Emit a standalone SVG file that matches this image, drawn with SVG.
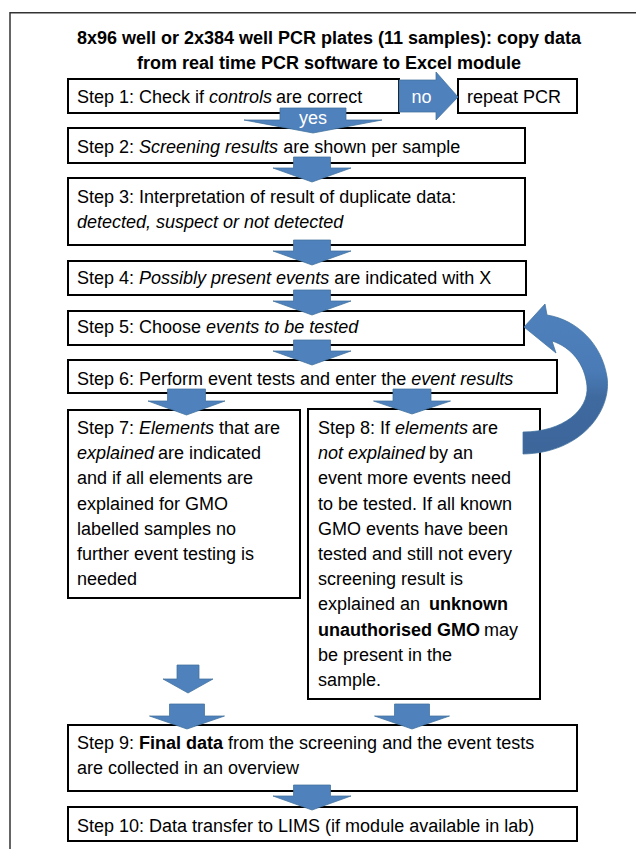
<svg xmlns="http://www.w3.org/2000/svg" width="636" height="849" viewBox="0 0 636 849">
<defs>
<style>
text{font-family:"Liberation Sans",Arial,sans-serif;font-size:18px;fill:#000}
.box{fill:#fff;stroke:#000;stroke-width:2}
.arr{fill:#4F81BD;stroke:#41719C;stroke-width:0.75}
.lbl{fill:#fff;text-anchor:middle}
.i{font-style:italic}
.b{font-weight:bold}
.title{font-weight:bold;text-anchor:middle}
</style>
<linearGradient id="cg" gradientUnits="userSpaceOnUse" x1="0" y1="305" x2="0" y2="454">
<stop offset="0" stop-color="#4F81BD"/>
<stop offset="0.45" stop-color="#4A7BB6"/>
<stop offset="0.62" stop-color="#3F6A9F"/>
<stop offset="1" stop-color="#3D669B"/>
</linearGradient>
</defs>
<path d="M636 12.7H10V849" fill="none" stroke="#333" stroke-width="1.5"/>
<g id="title">
<text class="title" x="329" y="43.5">8x96 well or 2x384 well PCR plates (11 samples): copy data</text>
<text class="title" x="329" y="68.5">from real time PCR software to Excel module</text>
</g>
<g id="step1"><rect class="box" x="68" y="79" width="331" height="34"/><text x="77" y="103">Step 1: Check if <tspan class="i">controls</tspan><tspan dx="4">are correct</tspan></text></g>
<g id="repeat"><rect class="box" x="458" y="79" width="119" height="34"/><text x="467" y="103">repeat PCR</text></g>
<g id="step2"><rect class="box" x="68" y="128" width="457" height="35"/><text x="77" y="153">Step 2: <tspan class="i">Screening results</tspan> are shown per sample</text></g>
<g id="step3"><rect class="box" x="68" y="178" width="457" height="67"/><text x="77" y="203">Step 3: Interpretation of result of duplicate data:</text><text class="i" x="77" y="228">detected, suspect or not detected</text></g>
<g id="step4"><rect class="box" x="68" y="261" width="458" height="34"/><text x="77" y="284">Step 4: <tspan class="i">Possibly present events</tspan> are indicated with X</text></g>
<g id="step5"><rect class="box" x="68" y="311" width="456" height="34"/><text x="77" y="333">Step 5: Choose <tspan class="i">events to be tested</tspan></text></g>
<g id="step6"><rect class="box" x="68" y="360" width="489" height="33"/><text x="77" y="385">Step 6: Perform event tests and enter the <tspan class="i">event results</tspan></text></g>
<g id="step7"><rect class="box" x="68" y="410" width="232" height="188"/>
<text x="77" y="434">Step 7: <tspan class="i">Elements</tspan> that are</text>
<text x="77" y="459.2"><tspan class="i">explained</tspan><tspan dx="4">are indicated</tspan></text>
<text x="77" y="484.4">and if all elements are</text>
<text x="77" y="509.6">explained for GMO</text>
<text x="77" y="534.8">labelled samples no</text>
<text x="77" y="560">further event testing is</text>
<text x="77" y="585.2">needed</text>
</g>
<g id="step8"><rect class="box" x="308" y="409" width="232" height="290"/>
<text x="318" y="434">Step 8: If <tspan class="i">elements</tspan><tspan dx="4">are</tspan></text>
<text x="318" y="459.2"><tspan class="i">not explained</tspan><tspan dx="4">by an</tspan></text>
<text x="318" y="484.4">event more events need</text>
<text x="318" y="509.6">to be tested. If all known</text>
<text x="318" y="534.8">GMO events have been</text>
<text x="318" y="560">tested and still not every</text>
<text x="318" y="585.2">screening result is</text>
<text x="318" y="610.4">explained an <tspan class="b" dx="4">unknown</tspan></text>
<text x="318" y="635.6"><tspan class="b">unauthorised GMO</tspan><tspan dx="4">may</tspan></text>
<text x="318" y="660.8">be present in the</text>
<text x="318" y="686">sample.</text>
</g>
<g id="step9"><rect class="box" x="68" y="725" width="509" height="66"/><text x="77" y="749">Step 9: <tspan class="b">Final data</tspan> from the screening and the event tests</text><text x="77" y="774">are collected in an overview</text></g>
<g id="step10"><rect class="box" x="68" y="807" width="509" height="34"/><text x="77" y="832">Step 10: Data transfer to LIMS (if module available in lab)</text></g>
<g id="connectors">
<polygon class="arr" points="399,80 436,80 436,72 458,97 436,120 436,112 399,112"/>
<text class="lbl" x="421.5" y="103">no</text>
<polygon class="arr" points="280,108 346,108 346,120 382,120 313,133 244,120 280,120"/>
<text class="lbl" x="313" y="124">yes</text>
<polygon class="arr" points="293.5,157 330.5,157 330.5,168 351,168 312,182 273,168 293.5,168"/>
<polygon class="arr" points="293.5,240 330.5,240 330.5,251 351,251 312,265 273,251 293.5,251"/>
<polygon class="arr" points="293.5,290 330.5,290 330.5,301 351,301 312,315 273,301 293.5,301"/>
<polygon class="arr" points="293.5,340 330.5,340 330.5,351 351,351 312,365 273,351 293.5,351"/>
<polygon class="arr" points="167.5,389 205.5,389 205.5,401 225,401 186.5,415 148,401 167.5,401"/>
<polygon class="arr" points="393,389 431,389 431,401 450.5,401 412,414 373.5,401 393,401"/>
<polygon class="arr" points="177,665 199,665 199,679 213,679 188,693 163,679 177,679"/>
<polygon class="arr" points="169.5,704 204.5,704 204.5,716 224.5,716 187,729 149.5,716 169.5,716"/>
<polygon class="arr" points="394.5,704 429.5,704 429.5,716 449.5,716 412,729 374.5,716 394.5,716"/>
<polygon class="arr" points="293.5,785 330.5,785 330.5,796 351,796 312,810 273,796 293.5,796"/>
<path d="M524,327 L545,304 L547,315 C578,320 602,345 607,377 C612,410 582,453 523,454 L523,432 C563,432 589,410 587,386 C585,364 571,347 552,341 L556,353 Z" fill="url(#cg)" stroke="#41719C" stroke-width="0.75"/>
</g>
</svg>
